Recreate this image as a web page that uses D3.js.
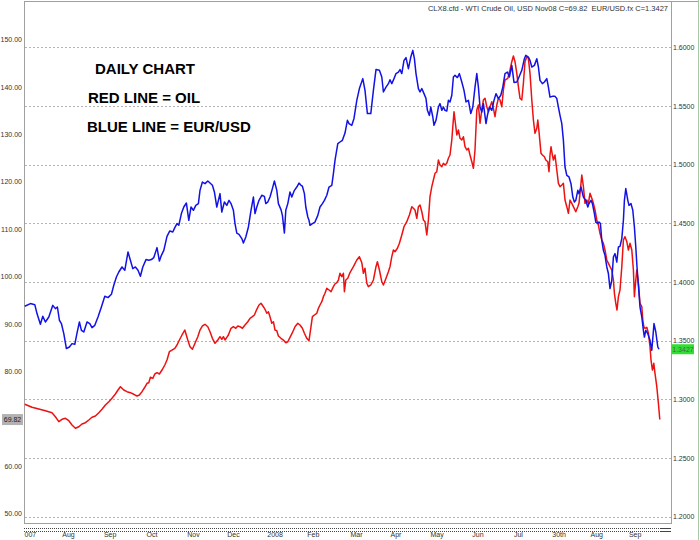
<!DOCTYPE html>
<html>
<head>
<meta charset="utf-8">
<script src="https://cdn.jsdelivr.net/npm/d3@7"></script>
<style>
  body { margin: 0; background: #fff; }
  text { font-family: "Liberation Sans", Arial, sans-serif; }
</style>
</head>
<body>
<div id="chart-area"></div>
<script>
// trading-day index (0 = first bar) and closing value
let eurUsd = [[0.4,1.3793],[3.2,1.3816],[5.4,1.3807],[6.5,1.3731],[8.2,1.3640],[9.4,1.3708],[10.7,1.3659],[12.4,1.3702],[14.4,1.3801],[15.7,1.3773],[16.7,1.3787],[17.7,1.3674],[18.7,1.3646],[19.9,1.3560],[21.2,1.3433],[22.7,1.3446],[24,1.3475],[25.4,1.3469],[26.5,1.3565],[27.7,1.3659],[28.7,1.3588],[29.9,1.3574],[31.5,1.3659],[32.9,1.3646],[34,1.3611],[35.4,1.3631],[37,1.3702],[38.7,1.3787],[40.4,1.3878],[42,1.3867],[43.7,1.3895],[44.9,1.3972],[46.2,1.4043],[47.4,1.4085],[49,1.4128],[50.4,1.4100],[52,1.4256],[53.2,1.4185],[54.4,1.4114],[55.7,1.4128],[57,1.4100],[58.2,1.4049],[59.4,1.4128],[61,1.4191],[62.4,1.4185],[63.7,1.4191],[64.9,1.4208],[66.5,1.4293],[67.7,1.4179],[68.7,1.4227],[69.9,1.4270],[71.5,1.4389],[72.9,1.4435],[74.4,1.4426],[75.4,1.4463],[76.5,1.4498],[77.4,1.4483],[78.7,1.4583],[79.9,1.4639],[81.2,1.4673],[82.4,1.4526],[83.5,1.4639],[84.7,1.4611],[85.9,1.4653],[87.2,1.4668],[88,1.4781],[89.2,1.4852],[90.5,1.4838],[91.9,1.4861],[93,1.4843],[94.2,1.4824],[95.2,1.4767],[96.4,1.4639],[97.2,1.4696],[98,1.4753],[98.9,1.4596],[100.2,1.4682],[101.4,1.4653],[102.5,1.4696],[103.5,1.4668],[104.7,1.4611],[105.5,1.4498],[106.4,1.4417],[107.5,1.4406],[108.9,1.4370],[109.7,1.4332],[110.9,1.4383],[112.2,1.4469],[113.5,1.4611],[114.7,1.4724],[115.5,1.4583],[116.4,1.4639],[117.5,1.4696],[118.9,1.4739],[120.2,1.4730],[120.9,1.4668],[121.9,1.4682],[123,1.4724],[124.2,1.4796],[125.2,1.4861],[126.4,1.4781],[127.2,1.4668],[128.5,1.4617],[129.2,1.4568],[130.2,1.4417],[130.9,1.4611],[131.9,1.4668],[133,1.4767],[133.9,1.4724],[135.2,1.4781],[136.4,1.4809],[137.5,1.4843],[138.5,1.4824],[139.2,1.4816],[140.2,1.4753],[140.9,1.4639],[141.9,1.4554],[142.5,1.4526],[143,1.4483],[144.2,1.4498],[145.5,1.4511],[146.9,1.4568],[148,1.4639],[149.2,1.4668],[150.2,1.4696],[151.4,1.4739],[152.5,1.4809],[153.9,1.4824],[154.7,1.4924],[155.5,1.5037],[156.9,1.5179],[158,1.5193],[159.2,1.5207],[160.5,1.5269],[161.7,1.5378],[162.5,1.5350],[163.9,1.5335],[165,1.5394],[166.4,1.5548],[167.7,1.5648],[169.4,1.5733],[170.5,1.5633],[171.7,1.5435],[173.4,1.5435],[174.7,1.5633],[176,1.5810],[177.7,1.5804],[178.9,1.5747],[179.7,1.5619],[181,1.5661],[182.2,1.5690],[183,1.5724],[183.9,1.5690],[185,1.5733],[186,1.5776],[187.2,1.5789],[188,1.5810],[188.9,1.5776],[190,1.5889],[191,1.5912],[192.2,1.5818],[193.4,1.5917],[194.4,1.5974],[195.2,1.5903],[196,1.5776],[197.2,1.5648],[198,1.5619],[198.9,1.5648],[200,1.5605],[201,1.5563],[201.7,1.5463],[202.7,1.5420],[203.4,1.5491],[204.4,1.5406],[205,1.5335],[206,1.5378],[207.2,1.5491],[208,1.5520],[208.9,1.5463],[209.7,1.5491],[210.5,1.5463],[211.4,1.5457],[212.2,1.5548],[213,1.5534],[213.9,1.5591],[214.7,1.5747],[215.5,1.5761],[216.7,1.5742],[217.7,1.5776],[218.9,1.5704],[220,1.5633],[221,1.5534],[222.2,1.5548],[223.4,1.5435],[224.4,1.5491],[225.5,1.5661],[226.4,1.5776],[227.2,1.5661],[228,1.5491],[228.9,1.5448],[229.7,1.5520],[231,1.5350],[231.7,1.5420],[232.7,1.5491],[233.9,1.5463],[235,1.5548],[236,1.5605],[237.2,1.5563],[238.4,1.5591],[239.4,1.5661],[240.5,1.5776],[241.7,1.5789],[242.7,1.5747],[243.9,1.5846],[245,1.5701],[246.4,1.5704],[247.5,1.5747],[248.9,1.5804],[250.2,1.5903],[250.9,1.5932],[252.2,1.5917],[253,1.5889],[253.9,1.5832],[255.2,1.5846],[256.4,1.5903],[257.2,1.5832],[258,1.5718],[259.2,1.5690],[260.2,1.5704],[261.4,1.5733],[262.2,1.5661],[263,1.5576],[264.2,1.5582],[265.5,1.5582],[266.4,1.5563],[267.2,1.5491],[268,1.5420],[268.9,1.5350],[269.7,1.5207],[270.5,1.4980],[271.4,1.4909],[272.5,1.4895],[273.5,1.4838],[274.4,1.4724],[275.2,1.4682],[275.9,1.4696],[276.9,1.4781],[277.5,1.4753],[278.5,1.4809],[279.7,1.4724],[280.9,1.4696],[281.9,1.4639],[282.5,1.4668],[283.5,1.4696],[284.2,1.4668],[285.2,1.4583],[285.9,1.4511],[286.9,1.4498],[287.5,1.4511],[288.2,1.4498],[288.9,1.4355],[289.7,1.4270],[290.5,1.4227],[291.4,1.4128],[292.2,1.4072],[293,1.3944],[293.9,1.4014],[294.7,1.4213],[295.5,1.4242],[296.4,1.4170],[297.2,1.4298],[298,1.4304],[298.9,1.4370],[299.7,1.4526],[300.2,1.4696],[300.9,1.4796],[301.9,1.4696],[302.5,1.4653],[303.5,1.4668],[304.4,1.4611],[305.2,1.4469],[305.9,1.4298],[306.5,1.4128],[307.2,1.3972],[308,1.3787],[308.9,1.3702],[309.7,1.3588],[310.2,1.3531],[310.9,1.3588],[311.9,1.3560],[313,1.3503],[313.9,1.3418],[315,1.3646],[315.9,1.3574],[316.9,1.3446],[317.5,1.3427]];

let oil = [[0.4,73.04],[4,72.41],[7.4,72.05],[10.7,71.69],[14,71.27],[15.7,70.42],[17.4,69.37],[19,69.87],[20.7,70.08],[22.4,69.58],[24,68.67],[25.7,67.98],[27.4,68.31],[29,68.88],[30.7,69.16],[32.4,69.73],[34,70.30],[35.7,70.57],[37.4,71.27],[39,71.98],[40.7,72.89],[42.4,73.59],[44,74.30],[45.7,75.21],[47,76.06],[48.2,76.75],[49.9,76.06],[51.5,75.70],[53.2,75.49],[54.9,75.15],[56.5,74.79],[57.7,75.00],[59,75.70],[60.4,76.63],[61.5,77.47],[62.4,77.60],[63.2,78.74],[64.4,78.52],[65.4,79.43],[66.5,79.71],[67.7,79.43],[69,80.27],[70.4,81.33],[71.5,82.38],[72.7,84.14],[74,84.49],[75.4,84.85],[76.5,85.55],[77.7,86.60],[79,87.66],[80.4,88.71],[81.9,86.60],[83,85.19],[84.2,84.64],[85.5,85.91],[86.9,87.30],[88,88.71],[89.2,89.56],[90.5,89.92],[91.9,89.41],[93,88.35],[94.2,86.96],[95.5,85.91],[96.9,86.60],[98,87.30],[98.9,86.75],[99.7,87.30],[100.5,86.60],[101.4,87.17],[102.2,87.66],[103.5,89.07],[104.7,89.41],[105.9,89.07],[106.9,89.56],[108,89.41],[109.2,89.07],[110.5,89.77],[111.9,90.46],[113,91.18],[114.2,91.52],[115.2,91.88],[116.4,93.08],[117.5,93.99],[118.5,94.35],[119.7,93.63],[120.5,93.08],[121.4,92.24],[122.2,92.57],[123,91.52],[123.9,90.13],[124.7,90.46],[125.5,88.71],[126.4,88.57],[127.2,87.45],[128.5,86.96],[129.7,86.60],[130.9,86.03],[131.9,86.24],[133,87.17],[134.2,88.14],[135.5,89.41],[136.9,90.13],[138,89.77],[139.2,89.07],[140.2,88.02],[141.4,86.96],[142.5,86.46],[143.5,89.41],[144.2,91.52],[145.2,91.88],[146.4,92.24],[147.2,93.29],[148,93.99],[148.9,94.68],[149.7,95.74],[150.5,96.46],[151.4,97.51],[152.5,97.15],[153.5,96.79],[154.7,97.85],[155.5,98.42],[156.4,98.69],[157.2,99.26],[158,100.68],[158.9,99.96],[159.7,100.68],[160.2,96.79],[160.9,99.26],[161.9,99.62],[163,100.84],[164.7,102.07],[166.4,103.48],[167.7,104.18],[168.9,102.91],[169.7,100.68],[170.5,101.73],[171.4,98.57],[172.2,97.85],[173.4,98.21],[174.7,99.26],[176,102.07],[176.7,103.12],[177.7,101.37],[178.9,98.90],[179.7,98.21],[181,99.62],[182.2,101.01],[183,102.07],[183.9,104.18],[184.7,105.59],[185.5,105.23],[186.7,105.95],[187.7,107.00],[188.9,108.76],[190,110.51],[191.4,111.56],[192.7,112.97],[193.9,114.73],[194.7,114.39],[195.5,114.03],[196.4,112.28],[197.2,114.73],[198,115.08],[198.9,113.67],[199.7,111.92],[200.5,111.56],[201.4,108.76],[202.2,111.92],[203,116.84],[203.9,118.95],[204.7,120.36],[205.5,121.77],[206.4,122.11],[207.2,124.58],[208,123.52],[208.9,123.16],[209.7,123.88],[210.5,123.52],[211.4,123.88],[212.2,124.94],[213,125.63],[213.9,128.80],[214.4,131.60],[215,134.77],[215.5,133.02],[216.4,129.85],[217.2,130.91],[218,129.16],[218.9,128.80],[219.7,129.49],[220.5,127.38],[221.4,126.69],[222.2,127.05],[223,125.63],[223.9,124.22],[224.7,122.83],[225.5,126.69],[226.4,135.13],[227.2,136.18],[228,132.32],[228.9,135.13],[229.7,137.24],[230.5,137.60],[231.4,135.82],[232.2,134.77],[233,135.82],[233.9,136.88],[234.7,135.49],[235.5,133.71],[236.4,136.18],[237.2,137.60],[238,137.24],[238.9,135.82],[239.7,139.35],[240.5,141.46],[241.9,141.81],[243,143.57],[243.9,145.32],[244.7,146.52],[245.5,145.32],[246.4,142.87],[247.2,140.04],[248,137.60],[248.9,137.24],[249.7,140.76],[250.5,145.32],[251.4,146.37],[252.2,146.03],[253,142.87],[253.9,137.24],[254.7,133.02],[255.5,130.21],[256.4,131.27],[256.9,133.02],[257.5,130.55],[258.5,125.99],[259.2,125.63],[260.2,125.27],[260.9,124.58],[261.9,124.22],[262.5,122.11],[263,125.63],[263.5,127.38],[264.2,125.63],[264.7,124.58],[265.5,125.63],[266.4,122.47],[267.2,119.66],[268,118.95],[268.9,119.30],[269.7,119.66],[270.5,116.14],[271.4,114.73],[272.2,113.33],[273,116.14],[273.9,115.44],[274.7,114.73],[275.9,113.67],[276.9,114.73],[277.5,115.44],[278,117.55],[278.9,121.41],[279.7,118.95],[280.5,115.44],[281.4,116.14],[282.2,115.44],[283,117.55],[283.9,116.50],[284.7,115.44],[285.5,114.03],[286.4,111.92],[287.2,110.86],[288,109.11],[288.9,107.70],[289.7,107.00],[290.5,105.59],[291.4,103.48],[292.2,102.78],[293,102.07],[293.9,101.37],[294.7,99.26],[295.2,96.46],[295.9,94.35],[296.5,92.93],[297.2,95.74],[298,97.15],[298.9,102.07],[299.7,107.70],[300.5,108.40],[301.4,107.34],[302.2,105.59],[303,107.00],[303.9,105.59],[304.7,101.37],[305.2,95.74],[305.9,99.26],[306.4,101.37],[307.2,98.57],[308,94.35],[308.9,93.63],[309.4,90.82],[309.9,89.41],[310.5,89.07],[311.4,89.28],[312.2,88.02],[313,85.19],[313.5,82.38],[314.2,80.27],[314.9,81.69],[315.5,79.58],[316.4,76.75],[317.2,73.25],[317.9,69.82]];

let oilTicks = [150, 140, 130, 120, 110, 100, 90, 80, 60, 50];
let eurTicks = [1.6, 1.55, 1.5, 1.45, 1.4, 1.35, 1.3, 1.25, 1.2];
let monthDays = [0, 18.9, 39.7, 61, 81.4, 101.4, 121.4, 141.4, 163, 183, 203, 223.9, 244.7, 263.9, 283, 302.2];
let monthLabels = ["007", "Aug", "Sep", "Oct", "Nov", "Dec", "2008", "Feb", "Mar", "Apr", "May", "Jun", "Jul", "30th", "Aug", "Sep"];
let legendLines = ["DAILY CHART", "RED LINE = OIL", "BLUE LINE = EUR/USD"];
let headerText = "CLX8.cfd - WTI Crude Oil, USD Nov08 C=69.82  EUR/USD.fx C=1.3427";
let lastOil = 69.82;
let lastEur = 1.3427;

let svgCanvas = d3.select("#chart-area")
                    .append("svg")
                    .attr("width", 700)
                    .attr("height", 540);

let x = d3.scaleLinear().domain([0, 318]).range([24, 660]);
let yOil = d3.scaleLinear().domain([50, 150]).range([513.5, 39.5]);
let yEur = d3.scaleLinear().domain([1.2, 1.6]).range([516.7, 47.3]);

// gridlines follow the right-hand (EUR/USD) scale
svgCanvas.selectAll(".grid")
         .data(eurTicks)
         .enter().append("line")
         .attr("x1", 25)
         .attr("x2", 671)
         .attr("y1", d => Math.round(yEur(d)) + 0.5)
         .attr("y2", d => Math.round(yEur(d)) + 0.5)
         .attr("stroke", "#b4b4b4")
         .attr("stroke-dasharray", "2,2");

// frame
let frame = [
    [24.5, 1, 24.5, 524],
    [24, 1.5, 698, 1.5],
    [671.5, 1, 671.5, 524],
    [24, 523.5, 671, 523.5]
];
svgCanvas.selectAll(".frame")
         .data(frame)
         .enter().append("line")
         .attr("x1", d => d[0]).attr("y1", d => d[1])
         .attr("x2", d => d[2]).attr("y2", d => d[3])
         .attr("stroke", "#a0a0a0");
svgCanvas.append("line")
         .attr("x1", 698.5).attr("x2", 698.5)
         .attr("y1", 0).attr("y2", 540)
         .attr("stroke", "#a8c8a8");

// date strip under the plot
let stripRows = [528.5, 531.5];
stripRows.forEach(yy => {
    svgCanvas.append("line")
             .attr("x1", 24).attr("x2", 660)
             .attr("y1", yy).attr("y2", yy)
             .attr("stroke", "#444")
             .attr("stroke-dasharray", "1,1");
    svgCanvas.append("line")
             .attr("x1", 660).attr("x2", 671)
             .attr("y1", yy).attr("y2", yy)
             .attr("stroke", "#444");
});

let leftAxis = svgCanvas.append("g")
                        .attr("transform", "translate(24,0)")
                        .call(d3.axisLeft(yOil)
                                .tickValues(oilTicks)
                                .tickFormat(d3.format(".2f"))
                                .tickSize(0)
                                .tickPadding(2));
let rightAxis = svgCanvas.append("g")
                         .attr("transform", "translate(671,0)")
                         .call(d3.axisRight(yEur)
                                 .tickValues(eurTicks)
                                 .tickFormat(d3.format(".4f"))
                                 .tickSize(0)
                                 .tickPadding(2));
let bottomAxis = svgCanvas.append("g")
                          .attr("transform", "translate(0,531)")
                          .call(d3.axisBottom(x)
                                  .tickValues(monthDays)
                                  .tickFormat((d, i) => monthLabels[i])
                                  .tickSize(0)
                                  .tickPadding(1));
bottomAxis.selectAll("text").attr("text-anchor", "start");

svgCanvas.selectAll(".domain").remove();
svgCanvas.selectAll(".tick text")
         .attr("font-family", "Liberation Sans, Arial, sans-serif")
         .attr("font-size", 7)
         .attr("fill", "#333");

// series
let oilLine = d3.line().x(d => x(d[0])).y(d => yOil(d[1]));
let eurLine = d3.line().x(d => x(d[0])).y(d => yEur(d[1]));

svgCanvas.append("path")
         .attr("d", oilLine(oil))
         .attr("fill", "none")
         .attr("stroke", "#ee1111")
         .attr("stroke-width", 1.5)
         .attr("stroke-linejoin", "round");
svgCanvas.append("path")
         .attr("d", eurLine(eurUsd))
         .attr("fill", "none")
         .attr("stroke", "#1212e6")
         .attr("stroke-width", 1.5)
         .attr("stroke-linejoin", "round");

// last value tags
svgCanvas.append("rect")
         .attr("x", 2).attr("y", yOil(lastOil) - 5.5)
         .attr("width", 21).attr("height", 11)
         .attr("fill", "#b2b2b2");
svgCanvas.append("text")
         .attr("x", 12.5).attr("y", yOil(lastOil) + 2.5)
         .attr("text-anchor", "middle")
         .attr("font-size", 7)
         .attr("fill", "#222")
         .text(d3.format(".2f")(lastOil));
svgCanvas.append("rect")
         .attr("x", 672).attr("y", yEur(lastEur) - 5)
         .attr("width", 22).attr("height", 10)
         .attr("fill", "#33dd33");
svgCanvas.append("text")
         .attr("x", 683).attr("y", yEur(lastEur) + 2.5)
         .attr("text-anchor", "middle")
         .attr("font-size", 7)
         .attr("fill", "#4a6a4a")
         .text(d3.format(".4f")(lastEur));

// header
svgCanvas.append("text")
         .attr("x", 668).attr("y", 11)
         .attr("text-anchor", "end")
         .attr("font-size", 7.5)
         .attr("fill", "#333")
         .attr("xml:space", "preserve")
         .style("white-space", "pre")
         .text(headerText);

// annotation
svgCanvas.selectAll(".legend")
         .data(legendLines)
         .enter().append("text")
         .attr("x", (d, i) => [95, 88, 87][i])
         .attr("y", (d, i) => 74 + i * 29)
         .attr("font-size", 15)
         .attr("font-weight", "bold")
         .attr("fill", "#000")
         .text(d => d);
</script>
</body>
</html>
